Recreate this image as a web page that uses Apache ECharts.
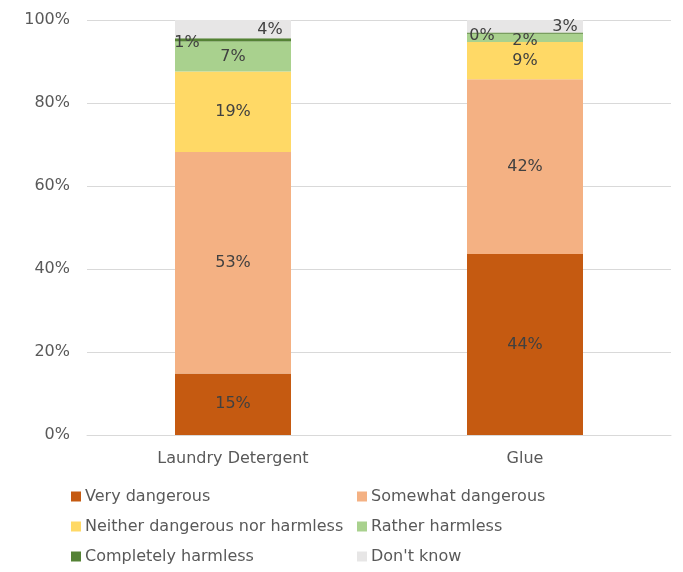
<!DOCTYPE html>
<html>
<head>
<meta charset="utf-8">
<script src="https://cdn.jsdelivr.net/npm/echarts@6/dist/echarts.min.js"></script>
<style>html,body{margin:0;padding:0;background:#fff}#c{width:683px;height:572px}</style>
</head>
<body>
<div id="c"></div>
<script>
var categories = ['Laundry Detergent', 'Glue'];
var seriesNames = ['Very dangerous', 'Somewhat dangerous', 'Neither dangerous nor harmless', 'Rather harmless', 'Completely harmless', "Don't know"];
var veryDangerous = [14.8, 43.6];
var somewhatDangerous = [53.4, 42.1];
var neitherDangerous = [19.4, 9.0];
var ratherHarmless = [7.2, 2.0];
var completelyHarmless = [0.8, 0.3];
var dontKnow = [4.4, 3.0];
var yTicks = [0, 20, 40, 60, 80, 100];

var values = [veryDangerous, somewhatDangerous, neitherDangerous, ratherHarmless, completelyHarmless, dontKnow];
var colors = ['#C55A11', '#F4B183', '#FFD966', '#A9D18E', '#548235', '#E7E6E6'];
// per-series, per-category label offsets (styling only)
var labelOffsets = [
  [[0, 0], [0, 0]],
  [[0, 0], [0, 0]],
  [[0, 0], [0, 0]],
  [[0, 0], [0, 3]],
  [[-46, 3], [-43, 3]],
  [[37, 1], [40, 1]]
];
var FONT = 'DejaVu Sans';
var FS = 16;
var series = seriesNames.map(function (n, i) {
  return {
    name: n,
    type: 'bar',
    stack: 'total',
    barWidth: 116,
    itemStyle: { color: colors[i] },
    data: values[i].map(function (v, j) {
      return {
        value: v,
        label: { offset: labelOffsets[i][j] }
      };
    }),
    label: {
      show: true,
      position: 'inside',
      color: '#404040',
      fontFamily: FONT,
      fontSize: FS,
      formatter: function (p) { return Math.round(p.value) + '%'; }
    }
  };
});

var chart = echarts.init(document.getElementById('c'));
chart.setOption({
  animation: false,
  backgroundColor: '#fff',
  grid: { left: 87, right: 12, top: 20, bottom: 137 },
  xAxis: {
    type: 'category',
    data: categories,
    axisLine: { lineStyle: { color: '#D9D9D9' } },
    axisTick: { show: false },
    axisLabel: { color: '#595959', fontFamily: FONT, fontSize: FS, margin: 16 }
  },
  yAxis: {
    type: 'value',
    min: yTicks[0],
    max: yTicks[yTicks.length - 1],
    interval: 20,
    axisLine: { show: false },
    axisTick: { show: false },
    splitLine: { lineStyle: { color: '#D9D9D9' } },
    axisLabel: { color: '#595959', fontFamily: FONT, fontSize: FS, margin: 17, formatter: '{value}%' }
  },
  legend: [
    {
      orient: 'vertical', left: 66, top: 483, height: 120, itemWidth: 10, itemHeight: 10, itemGap: 13,
      icon: 'rect',
      data: [seriesNames[0], seriesNames[2], seriesNames[4]],
      textStyle: { color: '#595959', fontFamily: FONT, fontSize: FS, lineHeight: 17, padding: [0, 0, 0, -1] }
    },
    {
      orient: 'vertical', left: 352, top: 483, height: 120, itemWidth: 10, itemHeight: 10, itemGap: 13,
      icon: 'rect',
      data: [seriesNames[1], seriesNames[3], seriesNames[5]],
      textStyle: { color: '#595959', fontFamily: FONT, fontSize: FS, lineHeight: 17, padding: [0, 0, 0, -1] }
    }
  ],
  series: series
});
</script>
</body>
</html>
